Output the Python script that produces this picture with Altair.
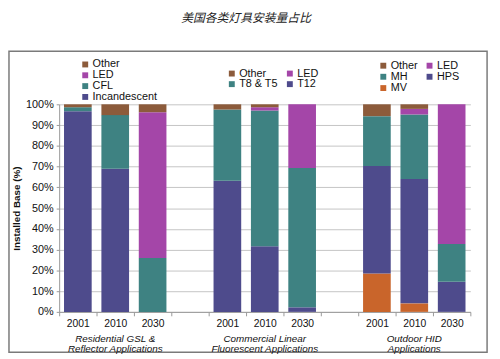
import altair as alt
import pandas as pd

# ---------------- data ----------------
title_text = "美国各类灯具安装量占比"

slots = ["res|2001", "res|2010", "res|2030", "gap1",
         "com|2001", "com|2010", "com|2030", "gap2",
         "out|2001", "out|2010", "out|2030"]

years = ["2001", "2010", "2030"]

# Residential GSL & Reflector (bottom -> top: Incandescent, CFL, LED, Other)
res_types = ["Incandescent", "CFL", "LED", "Other"]
res_incandescent = [96.7, 69.0, 0.0]
res_cfl = [1.9, 25.8, 26.0]
res_led = [0.0, 0.0, 70.2]
res_other = [1.4, 5.2, 3.8]

# Commercial Linear Fluorescent (bottom -> top: T12, T8 & T5, LED, Other)
com_types = ["T12", "T8 & T5", "LED", "Other"]
com_t12 = [63.2, 31.6, 2.2]
com_t8t5 = [34.3, 65.4, 67.1]
com_led = [0.0, 1.6, 30.7]
com_other = [2.5, 1.4, 0.0]

# Outdoor HID (bottom -> top: MV, HPS, MH, LED, Other)
out_types = ["MV", "HPS", "MH", "LED", "Other"]
out_mv = [18.5, 4.1, 0.0]
out_hps = [51.8, 59.9, 14.5]
out_mh = [24.0, 31.1, 18.2]
out_led = [0.0, 2.7, 67.3]
out_other = [5.7, 2.2, 0.0]

group_labels = ["Residential GSL &\nReflector Applications",
                "Commercial Linear\nFluorescent Applications",
                "Outdoor HID\nApplications"]
group_slots = ["res|2010", "com|2010", "out|2010"]

# colours
C_DARK = "#4E4B8C"
C_TEAL = "#3E8282"
C_LED = "#A446A8"
C_OTHER = "#8C5B3B"
C_MV = "#C9652B"

FONT = "Liberation Sans"


def build(prefix, types, series):
    rows = []
    for t_i, (t, vals) in enumerate(zip(types, series)):
        for y, v in zip(years, vals):
            rows.append({"slot": f"{prefix}|{y}", "type": t, "value": v, "ord": t_i})
    return pd.DataFrame(rows)


res_df = build("res", res_types, [res_incandescent, res_cfl, res_led, res_other])
com_df = build("com", com_types, [com_t12, com_t8t5, com_led, com_other])
out_df = build("out", out_types, [out_mv, out_hps, out_mh, out_led, out_other])

W, H = 418, 211

x_enc = alt.X("slot:N", scale=alt.Scale(domain=slots, paddingInner=0, paddingOuter=0),
              axis=alt.Axis(title=None, tickBand="extent",
                            labelExpr="indexof(datum.label,'|')>0 ? split(datum.label,'|')[1] : ''",
                            labelAngle=0, labelFont=FONT, labelFontSize=10.5, labelColor="#111",
                            labelPadding=3, tickSize=4, tickColor="#999", domainColor="#999",
                            grid=False))
y_enc = alt.Y("value:Q", stack="zero",
              scale=alt.Scale(domain=[0, 100], nice=False),
              axis=alt.Axis(title="Installed Base (%)", titleFont=FONT, titleFontSize=10,
                            titleFontWeight="bold", titleColor="#111", titlePadding=4,
                            values=list(range(0, 101, 10)), labelExpr="datum.value + '%'",
                            labelFont=FONT, labelFontSize=11, labelColor="#111",
                            gridColor="#c4c4c4", domainColor="#999", tickColor="#999",
                            tickSize=3, labelPadding=3))


def legend(x, y, cols, order, rowpad):
    return alt.Legend(title=None, orient="none", legendX=x, legendY=y, columns=cols,
                      symbolType="square", symbolSize=36, symbolStrokeWidth=0,
                      labelFont=FONT, labelFontSize=11, labelColor="#111",
                      labelOffset=2, columnPadding=6, rowPadding=rowpad, values=order)


def bars(df, types_top_down, colors, leg):
    return alt.Chart(df).mark_bar(width=alt.RelativeBandSize(0.74)).encode(
        x=x_enc,
        y=y_enc,
        color=alt.Color("type:N", scale=alt.Scale(domain=types_top_down, range=colors), legend=leg),
        order=alt.Order("ord:Q", sort="ascending"),
    )


# legends with columns fill column-major, so values are ordered to display row-wise
res_chart = bars(res_df, ["Other", "LED", "CFL", "Incandescent"],
                 [C_OTHER, C_LED, C_TEAL, C_DARK],
                 legend(21, -46, 1, ["Other", "LED", "CFL", "Incandescent"], -1))
com_chart = bars(com_df, ["Other", "LED", "T8 & T5", "T12"],
                 [C_OTHER, C_LED, C_TEAL, C_DARK],
                 legend(170, -37, 2, ["Other", "T8 & T5", "LED", "T12"], -1))
out_chart = bars(out_df, ["Other", "LED", "MH", "HPS", "MV"],
                 [C_OTHER, C_LED, C_TEAL, C_DARK, C_MV],
                 legend(324, -45, 2, ["Other", "MH", "MV", "LED", "HPS"], -0.5))

glabels = alt.Chart(pd.DataFrame({"slot": group_slots, "label": group_labels})).mark_text(
    font=FONT, fontSize=10, fontStyle="italic", color="#111", lineBreak="\n",
    baseline="middle", lineHeight=10
).encode(
    x=alt.X("slot:N", scale=alt.Scale(domain=slots)),
    y=alt.value(H + 28),
    text="label:N",
)

title = alt.Chart(pd.DataFrame({"t": [title_text]})).mark_text(
    font="Noto Sans CJK SC", fontSize=12, fontStyle="italic", color="#222",
    baseline="middle", align="center"
).encode(x=alt.value(190), y=alt.value(-88), text="t:N")

frame = alt.Chart(pd.DataFrame({"f": [0]})).mark_rect(
    fillOpacity=0, stroke="#7a7a7a", strokeWidth=1.5, clip=False
).encode(
    x=alt.value(-51), x2=alt.value(435), y=alt.value(-54), y2=alt.value(252)
)

chart = alt.layer(frame, title, res_chart, com_chart, out_chart, glabels).resolve_scale(
    color="independent"
).resolve_legend(color="independent").properties(
    width=W, height=H,
    autosize=alt.AutoSizeParams(type="none"),
    padding={"left": 52, "top": 95, "right": 22, "bottom": 45},
).configure_view(stroke=None)

chart.save("out.html", embed_options={"renderer": "svg", "actions": False})
